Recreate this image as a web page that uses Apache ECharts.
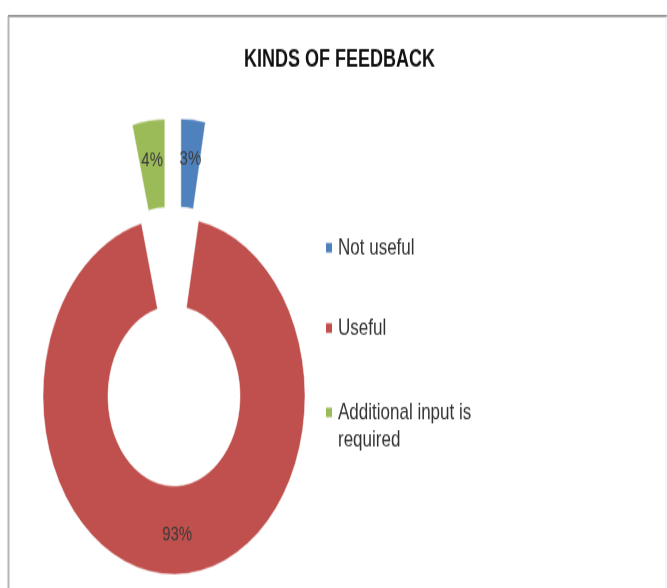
<!DOCTYPE html>
<html>
<head>
<meta charset="utf-8">
<script src="https://cdn.jsdelivr.net/npm/echarts@6/dist/echarts.min.js"></script>
<style>
  html, body { margin: 0; padding: 0; background: #ffffff; }
  #wrap { width: 667px; height: 588px; overflow: hidden; background: #ffffff; }
  /* the chart is laid out in a shorter box and stretched vertically */
  #chart { width: 667px; height: 432px; transform: scaleY(1.3611); transform-origin: 0 0; }
</style>
</head>
<body>
<div id="wrap"><div id="chart"></div></div>
<script>
const chartTitle = 'KINDS OF FEEDBACK';
const categories = ['Not useful', 'Useful', 'Additional input is required'];
const shares = [3, 93, 4];
const exploded = [true, false, true];
const colors = ['#4F81BD', '#C0504D', '#9BBB59'];

const FONT = "'Liberation Sans Narrow', 'Liberation Sans', Arial, sans-serif";

const chart = echarts.init(document.getElementById('chart'), null, { renderer: 'canvas' });

// one legend box per entry so each can sit at its own height
const legendTops = [172, 231, 273];

// long entry wraps onto two lines; the blank first line keeps the swatch beside the first text line
const legendText = n => n === 'Additional input is required' ? ' \nAdditional input is\nrequired' : n;

const option = {
  animation: false,
  backgroundColor: '#ffffff',
  color: colors,
  title: {
    text: chartTitle,
    left: 244,
    top: 35,
    padding: 0,
    textStyle: { fontFamily: FONT, fontSize: 18, fontWeight: 'bold', color: '#111111' }
  },
  legend: categories.map((name, i) => ({
    data: [name],
    orient: 'vertical',
    left: 324,
    top: legendTops[i],
    padding: 0,
    selectedMode: false,
    icon: 'rect',
    itemWidth: 8,
    itemHeight: 9,
    formatter: legendText,
    textStyle: {
      fontFamily: FONT,
      fontSize: 17,
      lineHeight: 20,
      color: '#333333'
    }
  })),
  graphic: [
    { type: 'line', shape: { x1: 8, y1: 11.8, x2: 667, y2: 11.8 }, style: { stroke: '#858585', lineWidth: 1.5 }, silent: true },
    { type: 'line', shape: { x1: 8.5, y1: 11.8, x2: 8.5, y2: 432 }, style: { stroke: '#b5b5b5', lineWidth: 2 }, silent: true },
    { type: 'line', shape: { x1: 666, y1: 11.8, x2: 666, y2: 432 }, style: { stroke: '#ececec', lineWidth: 1 }, silent: true }
  ],
  series: [{
    type: 'pie',
    center: [174, 291],
    radius: [66, 131],
    startAngle: 90,
    clockwise: true,
    selectedMode: 'multiple',
    selectedOffset: 73,
    avoidLabelOverlap: false,
    emphasis: { disabled: true },
    label: {
      show: true,
      position: 'inside',
      formatter: p => p.value + '%',
      fontFamily: FONT,
      fontSize: 15,
      color: '#3a3a3a'
    },
    labelLine: { show: false },
    itemStyle: { borderColor: '#ffffff', borderWidth: 0.5 },
    data: categories.map((name, i) => ({ name, value: shares[i], selected: exploded[i] }))
  }]
};

chart.setOption(option);
</script>
</body>
</html>
